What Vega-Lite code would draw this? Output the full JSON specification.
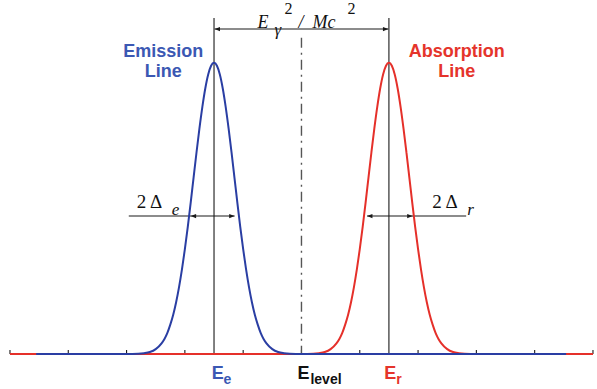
{
  "$schema": "https://vega.github.io/schema/vega-lite/v6.json",
  "width": 597,
  "height": 389,
  "autosize": {"type": "fit", "contains": "padding"},
  "padding": 0,
  "background": "white",
  "config": {"view": {"stroke": null}},
  "datasets": {
    "emission": [
      {"E": -4.55, "I": 0}, {"E": -3.0, "I": 0}, {"E": -2.8, "I": 0.001}, {"E": -2.7, "I": 0.003},
      {"E": -2.6, "I": 0.007}, {"E": -2.5, "I": 0.017}, {"E": -2.4, "I": 0.037}, {"E": -2.35, "I": 0.052},
      {"E": -2.3, "I": 0.073}, {"E": -2.25, "I": 0.101}, {"E": -2.2, "I": 0.135}, {"E": -2.15, "I": 0.178},
      {"E": -2.1, "I": 0.23}, {"E": -2.05, "I": 0.291}, {"E": -2.0, "I": 0.36}, {"E": -1.95, "I": 0.437},
      {"E": -1.9, "I": 0.52}, {"E": -1.85, "I": 0.607}, {"E": -1.8, "I": 0.693}, {"E": -1.75, "I": 0.775},
      {"E": -1.7, "I": 0.849}, {"E": -1.65, "I": 0.912}, {"E": -1.6, "I": 0.96}, {"E": -1.55, "I": 0.99},
      {"E": -1.5, "I": 1.0},
      {"E": -1.45, "I": 0.99}, {"E": -1.4, "I": 0.96}, {"E": -1.35, "I": 0.912}, {"E": -1.3, "I": 0.849},
      {"E": -1.25, "I": 0.775}, {"E": -1.2, "I": 0.693}, {"E": -1.15, "I": 0.607}, {"E": -1.1, "I": 0.52},
      {"E": -1.05, "I": 0.437}, {"E": -1.0, "I": 0.36}, {"E": -0.95, "I": 0.291}, {"E": -0.9, "I": 0.23},
      {"E": -0.85, "I": 0.178}, {"E": -0.8, "I": 0.135}, {"E": -0.75, "I": 0.101}, {"E": -0.7, "I": 0.073},
      {"E": -0.65, "I": 0.052}, {"E": -0.6, "I": 0.037}, {"E": -0.5, "I": 0.017}, {"E": -0.4, "I": 0.007},
      {"E": -0.3, "I": 0.003}, {"E": -0.2, "I": 0.001}, {"E": 0.0, "I": 0}, {"E": 4.54, "I": 0}
    ],
    "absorption": [
      {"E": -5.0, "I": 0}, {"E": 0.0, "I": 0}, {"E": 0.2, "I": 0.001}, {"E": 0.3, "I": 0.003},
      {"E": 0.4, "I": 0.007}, {"E": 0.5, "I": 0.017}, {"E": 0.6, "I": 0.037}, {"E": 0.65, "I": 0.052},
      {"E": 0.7, "I": 0.073}, {"E": 0.75, "I": 0.101}, {"E": 0.8, "I": 0.135}, {"E": 0.85, "I": 0.178},
      {"E": 0.9, "I": 0.23}, {"E": 0.95, "I": 0.291}, {"E": 1.0, "I": 0.36}, {"E": 1.05, "I": 0.437},
      {"E": 1.1, "I": 0.52}, {"E": 1.15, "I": 0.607}, {"E": 1.2, "I": 0.693}, {"E": 1.25, "I": 0.775},
      {"E": 1.3, "I": 0.849}, {"E": 1.35, "I": 0.912}, {"E": 1.4, "I": 0.96}, {"E": 1.45, "I": 0.99},
      {"E": 1.5, "I": 1.0},
      {"E": 1.55, "I": 0.99}, {"E": 1.6, "I": 0.96}, {"E": 1.65, "I": 0.912}, {"E": 1.7, "I": 0.849},
      {"E": 1.75, "I": 0.775}, {"E": 1.8, "I": 0.693}, {"E": 1.85, "I": 0.607}, {"E": 1.9, "I": 0.52},
      {"E": 1.95, "I": 0.437}, {"E": 2.0, "I": 0.36}, {"E": 2.05, "I": 0.291}, {"E": 2.1, "I": 0.23},
      {"E": 2.15, "I": 0.178}, {"E": 2.2, "I": 0.135}, {"E": 2.25, "I": 0.101}, {"E": 2.3, "I": 0.073},
      {"E": 2.35, "I": 0.052}, {"E": 2.4, "I": 0.037}, {"E": 2.5, "I": 0.017}, {"E": 2.6, "I": 0.007},
      {"E": 2.7, "I": 0.003}, {"E": 2.8, "I": 0.001}, {"E": 3.0, "I": 0}, {"E": 5.0, "I": 0}
    ],
    "lines": [
      {"x": -5, "x2": 5, "y": 0, "y2": 0},
      {"x": -5, "x2": -5, "y": 0, "y2": 0.014},
      {"x": -4, "x2": -4, "y": 0, "y2": 0.014},
      {"x": -3, "x2": -3, "y": 0, "y2": 0.014},
      {"x": -2, "x2": -2, "y": 0, "y2": 0.014},
      {"x": -1, "x2": -1, "y": 0, "y2": 0.014},
      {"x": 0, "x2": 0, "y": 0, "y2": 0.014},
      {"x": 1, "x2": 1, "y": 0, "y2": 0.014},
      {"x": 2, "x2": 2, "y": 0, "y2": 0.014},
      {"x": 3, "x2": 3, "y": 0, "y2": 0.014},
      {"x": 4, "x2": 4, "y": 0, "y2": 0.014},
      {"x": 5, "x2": 5, "y": 0, "y2": 0.014},
      {"x": -1.5, "x2": -1.5, "y": 0, "y2": 1.154},
      {"x": 1.5, "x2": 1.5, "y": 0, "y2": 1.154},
      {"x": -1.49, "x2": 1.49, "y": 1.116, "y2": 1.116},
      {"x": -2.962, "x2": -1.147, "y": 0.474, "y2": 0.474},
      {"x": 1.125, "x2": 2.825, "y": 0.474, "y2": 0.474}
    ],
    "centre": [{"x": 0, "x2": 0, "y": 1.086, "y2": 0}],
    "arrows": [
      {"x": -1.49, "y": 1.116, "dir": "left"}, {"x": 1.49, "y": 1.116, "dir": "right"},
      {"x": -1.9, "y": 0.474, "dir": "left"}, {"x": -1.147, "y": 0.474, "dir": "right"},
      {"x": 1.125, "y": 0.474, "dir": "left"}, {"x": 1.906, "y": 0.474, "dir": "right"}
    ],
    "heads": [
      {"t": "Emission", "x": -2.372, "y": 1.0216, "who": "em"},
      {"t": "Line", "x": -2.372, "y": 0.9497, "who": "em"},
      {"t": "Absorption", "x": 2.663, "y": 1.0216, "who": "ab"},
      {"t": "Line", "x": 2.663, "y": 0.9497, "who": "ab"}
    ],
    "ebig": [
      {"t": "E", "x": -1.541, "y": -0.0856, "who": "em"},
      {"t": "E", "x": -0.068, "y": -0.0856, "who": "lv"},
      {"t": "E", "x": 1.421, "y": -0.0856, "who": "ab"}
    ],
    "esub": [
      {"t": "e", "x": -1.336, "y": -0.1027, "who": "em"},
      {"t": "level", "x": 0.154, "y": -0.1027, "who": "lv"},
      {"t": "r", "x": 1.626, "y": -0.1027, "who": "ab"}
    ],
    "italic": [
      {"t": "E", "x": -0.753, "y": 1.12},
      {"t": "/", "x": -0.051, "y": 1.12},
      {"t": "Mc", "x": 0.188, "y": 1.12}
    ],
    "upright": [
      {"t": "2 Δ", "x": -2.825, "y": 0.5},
      {"t": "2 Δ", "x": 2.243, "y": 0.5}
    ],
    "sup": [
      {"t": "2", "x": -0.291, "y": 1.168},
      {"t": "2", "x": 0.788, "y": 1.168}
    ],
    "sub": [
      {"t": "γ", "x": -0.462, "y": 1.094},
      {"t": "e", "x": -2.226, "y": 0.479},
      {"t": "r", "x": 2.842, "y": 0.479}
    ]
  },
  "encoding": {
    "x": {"field": "x", "type": "quantitative", "axis": null, "scale": {"domain": [-5.171, 5.052], "nice": false, "zero": false}},
    "y": {"field": "y", "type": "quantitative", "axis": null, "scale": {"domain": [-0.1199, 1.2123], "nice": false, "zero": false}}
  },
  "layer": [
    {
      "data": {"name": "lines"},
      "mark": {"type": "rule", "color": "#1a1a1a", "strokeWidth": 1.1},
      "encoding": {
        "x2": {"field": "x2"},
        "y2": {"field": "y2"}
      }
    },
    {
      "data": {"name": "centre"},
      "mark": {"type": "rule", "color": "#555555", "strokeWidth": 1.4, "strokeDash": [10, 5, 2, 5]},
      "encoding": {
        "x2": {"field": "x2"},
        "y2": {"field": "y2"}
      }
    },
    {
      "data": {"name": "absorption"},
      "mark": {"type": "line", "color": "#e5302a", "strokeWidth": 2, "interpolate": "monotone"},
      "encoding": {
        "x": {"field": "E", "type": "quantitative"},
        "y": {"field": "I", "type": "quantitative"}
      }
    },
    {
      "data": {"name": "emission"},
      "mark": {"type": "line", "color": "#2a3ea3", "strokeWidth": 2, "interpolate": "monotone"},
      "encoding": {
        "x": {"field": "E", "type": "quantitative"},
        "y": {"field": "I", "type": "quantitative"}
      }
    },
    {
      "data": {"name": "arrows"},
      "mark": {"type": "point", "filled": true, "color": "#1a1a1a", "opacity": 1, "size": 36, "strokeWidth": 0},
      "encoding": {
        "shape": {"field": "dir", "type": "nominal", "legend": null, "scale": {"domain": ["left", "right"], "range": ["M 0 0 L 1.8 -0.7 L 1.8 0.7 Z", "M 0 0 L -1.8 -0.7 L -1.8 0.7 Z"]}}
      }
    },
    {
      "data": {"name": "heads"},
      "mark": {"type": "text", "font": "Liberation Sans", "fontWeight": "bold", "fontSize": 18, "align": "center", "baseline": "alphabetic"},
      "encoding": {
        "text": {"field": "t"},
        "color": {"field": "who", "type": "nominal", "legend": null, "scale": {"domain": ["em", "ab", "lv"], "range": ["#3b58b3", "#e5342b", "#111111"]}}
      }
    },
    {
      "data": {"name": "ebig"},
      "mark": {"type": "text", "font": "Liberation Sans", "fontWeight": "bold", "fontSize": 18, "align": "left", "baseline": "alphabetic"},
      "encoding": {
        "text": {"field": "t"},
        "color": {"field": "who", "type": "nominal", "legend": null}
      }
    },
    {
      "data": {"name": "esub"},
      "mark": {"type": "text", "font": "Liberation Sans", "fontWeight": "bold", "fontSize": 14, "align": "left", "baseline": "alphabetic"},
      "encoding": {
        "text": {"field": "t"},
        "color": {"field": "who", "type": "nominal", "legend": null}
      }
    },
    {
      "data": {"name": "italic"},
      "mark": {"type": "text", "font": "Liberation Serif", "fontStyle": "italic", "fontSize": 18, "align": "left", "baseline": "alphabetic", "color": "#111111"},
      "encoding": {"text": {"field": "t"}}
    },
    {
      "data": {"name": "upright"},
      "mark": {"type": "text", "font": "Liberation Serif", "fontSize": 19, "align": "left", "baseline": "alphabetic", "color": "#111111"},
      "encoding": {"text": {"field": "t"}}
    },
    {
      "data": {"name": "sup"},
      "mark": {"type": "text", "font": "Liberation Serif", "fontSize": 16, "align": "left", "baseline": "alphabetic", "color": "#111111"},
      "encoding": {"text": {"field": "t"}}
    },
    {
      "data": {"name": "sub"},
      "mark": {"type": "text", "font": "Liberation Serif", "fontStyle": "italic", "fontSize": 17, "align": "left", "baseline": "alphabetic", "color": "#111111"},
      "encoding": {"text": {"field": "t"}}
    }
  ]
}
